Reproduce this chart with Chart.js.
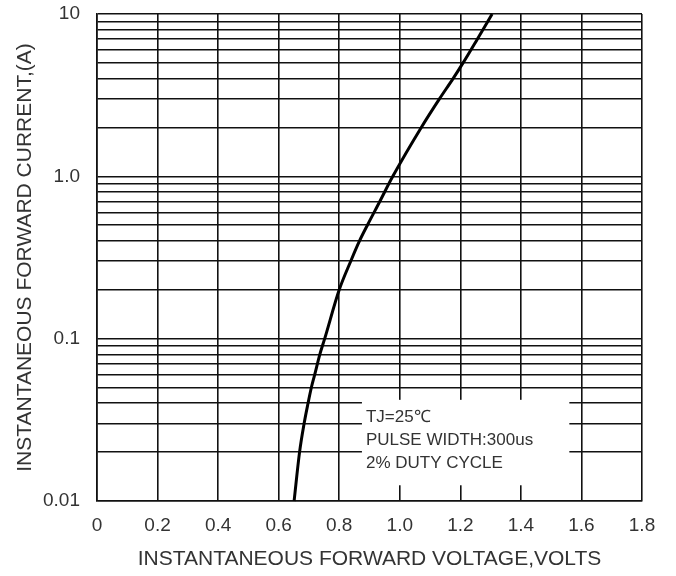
<!DOCTYPE html>
<html>
<head>
<meta charset="utf-8">
<title>Forward characteristics</title>
<script src="https://cdn.jsdelivr.net/npm/chart.js@4.4.1/dist/chart.umd.min.js"></script>
<style>
    html, body { margin: 0; padding: 0; background: #fff; }
    #wrap { width: 676px; height: 576px; position: relative; }
</style>
</head>
<body>
<div id="wrap"><canvas id="ifChart"></canvas></div>
<script>
// values (volts, amps)
const voltage = [0.651, 0.669, 0.684, 0.697, 0.708, 0.719, 0.736, 0.752, 0.800, 0.838, 0.867, 0.893, 0.934, 0.977, 1.071, 1.131, 1.176, 1.209, 1.256, 1.305];
const current = [0.01, 0.02, 0.03, 0.04, 0.05, 0.06, 0.08, 0.1, 0.2, 0.3, 0.4, 0.5, 0.7, 1.0, 2, 3, 4, 5, 7, 10];

const xTickValues = [0, 0.2, 0.4, 0.6, 0.8, 1.0, 1.2, 1.4, 1.6, 1.8];
const xTickLabels = ['0', '0.2', '0.4', '0.6', '0.8', '1.0', '1.2', '1.4', '1.6', '1.8'];
const yDecades = [0.01, 0.1, 1, 10];
const yTickLabels = ['0.01', '0.1', '1.0', '10'];

const noteLines = ['TJ=25\u2103', 'PULSE WIDTH:300us', '2% DUTY CYCLE'];
const noteBox = { x0: 0.875, x1: 1.56, yTop: 0.042, yBottom: 0.0125 };

const FONT = '"Liberation Sans", Arial, sans-serif';
const INK = '#333';

// white panel + conditions text inside the plot
const notePlugin = {
    id: 'notePlugin',
    beforeDatasetsDraw(chart) {
        const { ctx, scales: { x, y } } = chart;
        const left = x.getPixelForValue(noteBox.x0);
        const right = x.getPixelForValue(noteBox.x1);
        const top = y.getPixelForValue(noteBox.yTop);
        const bottom = y.getPixelForValue(noteBox.yBottom);
        ctx.save();
        ctx.fillStyle = '#fff';
        ctx.fillRect(left, top, right - left, bottom - top);

        ctx.fillStyle = INK;
        ctx.font = '17px ' + FONT;
        ctx.textBaseline = 'middle';
        ctx.textAlign = 'left';
        noteLines.forEach((t, i) => ctx.fillText(t, left + 4, top + 17 + i * 23));
        ctx.restore();
    }
};

function buildChart() {
    const ctx = document.getElementById('ifChart').getContext('2d');
    const points = voltage.map((v, i) => ({ x: v, y: current[i] }));

    window.ifChart = new Chart(ctx, {
        type: 'scatter',
        data: {
            datasets: [{
                data: points,
                showLine: true,
                borderColor: '#000',
                borderWidth: 3,
                pointRadius: 0,
                cubicInterpolationMode: 'monotone',
                clip: false
            }]
        },
        options: {
            responsive: true,
            maintainAspectRatio: false,
            animation: false,
            layout: { padding: { top: 14, right: 34, left: 0, bottom: 0 } },
            plugins: { legend: { display: false }, tooltip: { enabled: false } },
            scales: {
                x: {
                    type: 'linear',
                    min: 0,
                    max: 1.8,
                    afterFit: s => { s.height = 75; s.paddingLeft = 0; s.paddingRight = 0; },
                    afterBuildTicks: s => { s.ticks = xTickValues.map(v => ({ value: v })); },
                    grid: { color: '#111', lineWidth: 1.6, drawTicks: false },
                    border: { color: '#111', width: 1.6 },
                    ticks: {
                        autoSkip: false,
                        maxRotation: 0,
                        padding: 13,
                        color: INK,
                        font: { family: FONT, size: 19 },
                        callback: (v, i) => xTickLabels[i]
                    },
                    title: {
                        display: true,
                        text: 'INSTANTANEOUS FORWARD VOLTAGE,VOLTS',
                        color: INK,
                        font: { family: FONT, size: 21 },
                        padding: { top: 0, bottom: 4 }
                    }
                },
                y: {
                    type: 'logarithmic',
                    min: 0.01,
                    max: 10,
                    afterFit: s => { s.width = 97; s.paddingTop = 0; s.paddingBottom = 0; },
                    afterBuildTicks: s => {
                        const ticks = [];
                        yDecades.slice(0, -1).forEach(d => {
                            for (let k = 1; k < 10; k++) ticks.push({ value: +(k * d).toPrecision(3) });
                        });
                        ticks.push({ value: yDecades[yDecades.length - 1] });
                        s.ticks = ticks;
                    },
                    grid: { color: '#111', lineWidth: 1.6, drawTicks: false },
                    border: { color: '#111', width: 1.6 },
                    ticks: {
                        autoSkip: false,
                        padding: 17,
                        color: INK,
                        font: { family: FONT, size: 19 },
                        callback: v => {
                            const idx = yDecades.findIndex(d => Math.abs(d - v) < d * 1e-6);
                            return idx > -1 ? yTickLabels[idx] : '';
                        }
                    },
                    title: {
                        display: true,
                        text: 'INSTANTANEOUS FORWARD CURRENT,(A)',
                        color: INK,
                        font: { family: FONT, size: 21 },
                        padding: { top: 13, bottom: 0 }
                    }
                }
            }
        },
        plugins: [notePlugin]
    });
}

buildChart();
</script>
</body>
</html>
